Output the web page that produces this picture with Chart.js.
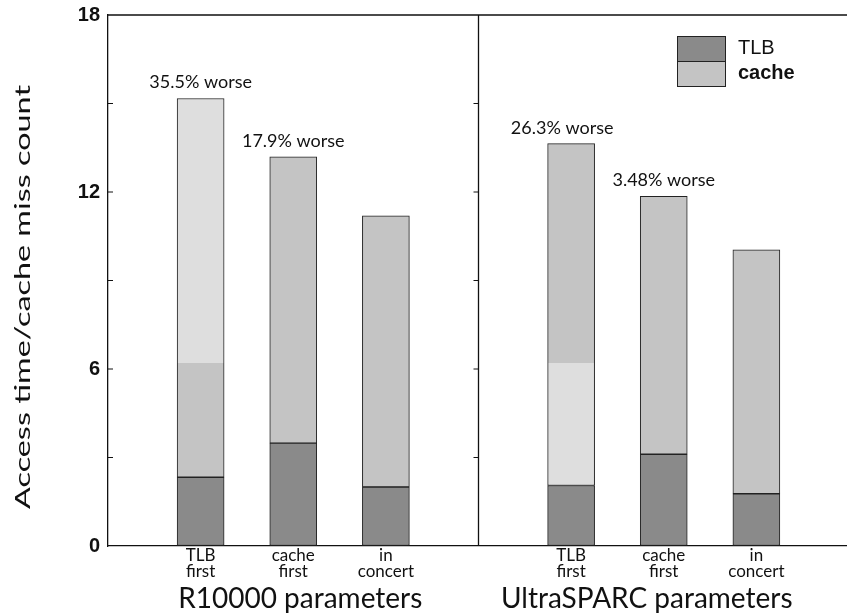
<!DOCTYPE html>
<html>
<head>
<meta charset="utf-8">
<script src="https://cdn.jsdelivr.net/npm/chart.js@4"></script>
<style>
  html, body { margin: 0; padding: 0; background: #fff; overflow: hidden; }
  #wrap { width: 847px; height: 614px; overflow: hidden; }
</style>
</head>
<body>
<div id="wrap"><canvas id="myChart" width="860" height="614"></canvas></div>
<script>
// values
const groups = ['R10000 parameters', 'UltraSPARC parameters'];
const configs = [['TLB', 'first'], ['cache', 'first'], ['in', 'concert']];
const tlbR10000 = [2.33, 3.49, 2.0];
const cacheR10000 = [12.84, 9.70, 9.19];
const tlbUltra = [2.05, 3.11, 1.77];
const cacheUltra = [11.59, 8.74, 8.27];
const notesR10000 = ['35.5% worse', '17.9% worse', ''];
const notesUltra = ['26.3% worse', '3.48% worse', ''];
const yTicks = [0, 6, 12, 18];
const legendLabels = ['TLB', 'cache'];
const yTitle = 'Access time/cache miss count';

// spacer slots at the frame edges and at the divider
const labels = [''].concat(configs, [''], configs, ['']);
const tlb = [null].concat(tlbR10000, [null], tlbUltra, [null]);
const cache = [null].concat(cacheR10000, [null], cacheUltra, [null]);
const notes = [''].concat(notesR10000, [''], notesUltra, ['']);

const tlbColor = '#8a8a8a';
const cacheColor = '#c4c4c4';
const lightColor = '#dedede';
const sansFont = 'Lato, "Open Sans", sans-serif';
const helv = '"Liberation Sans", Arial, sans-serif';
const bandEdge = 6.2; // scan shading change on the "TLB first" bars
const bandBars = { 1: 'upper', 5: 'lower' };
const groupShift = [7, -17];
const noteShift = { 5: -9 };

function cacheFill(c) {
  const chart = c.chart;
  const band = bandBars[c.dataIndex];
  if (!band || !chart.chartArea) return cacheColor;
  const y = chart.scales.y;
  const g = chart.ctx.createLinearGradient(0, y.bottom, 0, y.top);
  const f = bandEdge / y.max;
  const lo = band === 'lower' ? lightColor : cacheColor;
  const hi = band === 'lower' ? cacheColor : lightColor;
  g.addColorStop(0, lo);
  g.addColorStop(f, lo);
  g.addColorStop(f, hi);
  g.addColorStop(1, hi);
  return g;
}

const framePlugin = {
  id: 'frame',
  afterDatasetsDraw(chart) {
    const ctx = chart.ctx;
    const x = chart.scales.x;
    const y = chart.scales.y;
    const area = chart.chartArea;
    ctx.save();
    ctx.strokeStyle = '#111';
    ctx.lineWidth = 1.3;
    // top line and group divider
    const xd = x.getPixelForValue(4);
    ctx.beginPath();
    ctx.moveTo(area.left, area.top);
    ctx.lineTo(area.right, area.top);
    ctx.moveTo(xd, area.top);
    ctx.lineTo(xd, area.bottom);
    ctx.stroke();
    // small inner ticks every 3 units
    ctx.lineWidth = 1;
    for (let v = 3; v < 18; v += 3) {
      const py = y.getPixelForValue(v);
      ctx.beginPath();
      ctx.moveTo(area.left, py);
      ctx.lineTo(area.left + 5, py);
      ctx.moveTo(xd, py);
      ctx.lineTo(xd - 5, py);
      ctx.stroke();
    }

    // notes above bars
    const meta = chart.getDatasetMeta(1);
    ctx.fillStyle = '#111';
    ctx.font = '18px ' + sansFont;
    ctx.textAlign = 'center';
    ctx.textBaseline = 'alphabetic';
    notes.forEach((t, i) => {
      if (!t) return;
      const bar = meta.data[i];
      ctx.fillText(t, bar.x + (noteShift[i] || 0), bar.y - 10);
    });

    // category labels, two lines each
    ctx.font = '17px ' + sansFont;
    labels.forEach((lab, i) => {
      if (!lab) return;
      const px = x.getPixelForValue(i);
      ctx.fillText(lab[0], px, area.bottom + 15);
      ctx.fillText(lab[1], px, area.bottom + 31);
    });

    // group names
    ctx.font = '28px ' + sansFont;
    ctx.fillText(groups[0], x.getPixelForValue(2) + groupShift[0], 608);
    ctx.fillText(groups[1], x.getPixelForValue(6) + groupShift[1], 608);

    // y title, stretched along its length like the scanned figure
    ctx.save();
    ctx.font = '21px ' + sansFont;
    const w = ctx.measureText(yTitle).width;
    ctx.translate(30, 297);
    ctx.rotate(-Math.PI / 2);
    ctx.scale(424 / w, 1);
    ctx.fillText(yTitle, 0, 0);
    ctx.restore();

    // legend: two squares stacked
    const lx = 677, ly = 36, lw = 48, lh = 25;
    ctx.fillStyle = tlbColor;
    ctx.fillRect(lx, ly, lw, lh);
    ctx.fillStyle = cacheColor;
    ctx.fillRect(lx, ly + lh, lw, lh);
    ctx.strokeStyle = '#222';
    ctx.strokeRect(lx + 0.5, ly + 0.5, lw, lh * 2);
    ctx.beginPath();
    ctx.moveTo(lx, ly + lh + 0.5);
    ctx.lineTo(lx + lw, ly + lh + 0.5);
    ctx.stroke();
    ctx.fillStyle = '#111';
    ctx.textAlign = 'left';
    ctx.textBaseline = 'middle';
    ctx.font = '20px ' + helv;
    ctx.fillText(legendLabels[0], lx + 61, ly + 12);
    ctx.font = 'bold 20px ' + helv;
    ctx.fillText(legendLabels[1], lx + 61, ly + lh + 12);
    ctx.restore();
  }
};

const ctx = document.getElementById('myChart').getContext('2d');
const myChart = new Chart(ctx, {
  type: 'bar',
  data: {
    labels: labels,
    datasets: [{
      label: legendLabels[0],
      data: tlb,
      backgroundColor: tlbColor,
      borderColor: '#222',
      borderWidth: 1,
      borderSkipped: false,
      barThickness: 47
    }, {
      label: legendLabels[1],
      data: cache,
      backgroundColor: cacheFill,
      borderColor: '#222',
      borderWidth: 1,
      borderSkipped: false,
      barThickness: 47
    }]
  },
  options: {
    responsive: false,
    animation: false,
    layout: { padding: { top: 15, right: 11, left: 0, bottom: 0 } },
    plugins: { legend: { display: false }, tooltip: { enabled: false } },
    scales: {
      x: {
        stacked: true,
        offset: false,
        grid: { drawOnChartArea: false, drawTicks: false },
        border: { display: true, color: '#111', width: 1.3 },
        ticks: { display: false },
        afterFit(scale) { scale.height = 68; }
      },
      y: {
        stacked: true,
        min: 0,
        max: 18,
        grid: { drawOnChartArea: false, drawTicks: false },
        border: { display: true, color: '#111', width: 1.3 },
        afterBuildTicks(scale) { scale.ticks = yTicks.map(v => ({ value: v })); },
        ticks: {
          padding: 8,
          color: '#111',
          font: { family: helv, size: 20, weight: 'bold' }
        },
        afterFit(scale) {
          scale.width = 108;
          scale.paddingTop = 0;
          scale.paddingBottom = 0;
        }
      }
    }
  },
  plugins: [framePlugin]
});
</script>
</body>
</html>
